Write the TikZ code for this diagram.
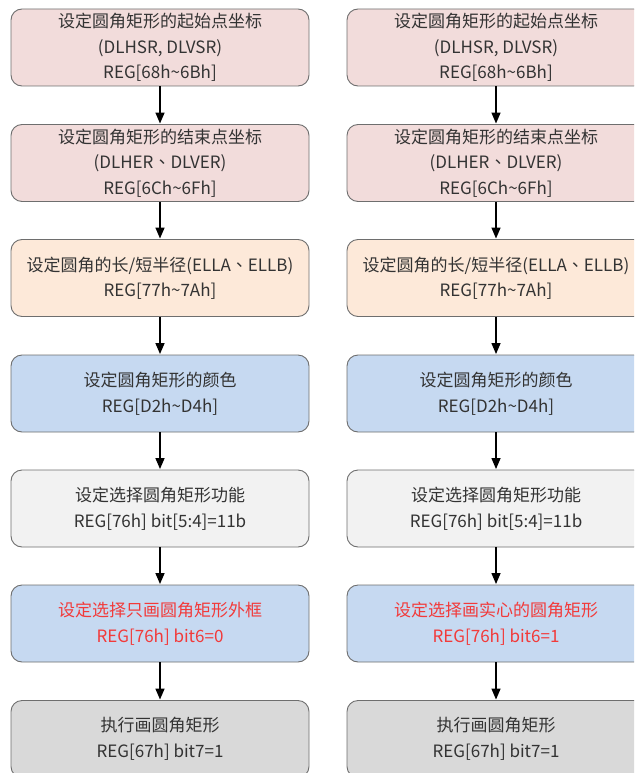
\documentclass[tikz,border=0pt]{standalone}
\usepackage{fontspec}
\setmainfont{Noto Sans CJK SC}
\newfontfamily\tcfont{Noto Sans CJK TC}
\newcommand{\dun}{{\tcfont 、}}
\usetikzlibrary{arrows.meta}
\definecolor{pinkf}{HTML}{F2DCDB}
\definecolor{peachf}{HTML}{FDE9D9}
\definecolor{bluef}{HTML}{C6D9F1}
\definecolor{lgrayf}{HTML}{F2F2F2}
\definecolor{grayf}{HTML}{D9D9D9}
\definecolor{edgec}{HTML}{6E6E6E}
\definecolor{txtc}{HTML}{333333}
\definecolor{redt}{HTML}{F23A3A}
\tikzset{
  box/.style={draw=edgec, line width=0.9pt, rounded corners=11pt, minimum width=298pt, minimum height=77pt,
    inner sep=0pt, align=center, text=txtc, font=\fontsize{17}{25.5}\selectfont},
  conn/.style={-{Triangle[length=11pt,width=9pt]}, line width=1.4pt, black, shorten >=0.5pt}
}
\begin{document}
\begin{tikzpicture}[x=1pt,y=-1pt]
\useasboundingbox (0,0) rectangle (634,773);
\clip (0,0) rectangle (634,773);
\foreach \c/\p in {160/l,496/r}{
  \node[box, fill=pinkf] (\p1) at (\c,47.5) {设定圆角矩形的起始点坐标\\(DLHSR, DLVSR)\\REG[68h\textasciitilde6Bh]};
  \node[box, fill=pinkf] (\p2) at (\c,163) {设定圆角矩形的结束点坐标\\(DLHER\dun DLVER)\\REG[6Ch\textasciitilde6Fh]};
  \node[box, fill=peachf] (\p3) at (\c,278) {设定圆角的长/短半径(ELLA\dun ELLB)\\REG[77h\textasciitilde7Ah]};
  \node[box, fill=bluef] (\p4) at (\c,393.5) {设定圆角矩形的颜色\\REG[D2h\textasciitilde D4h]};
  \node[box, fill=lgrayf] (\p5) at (\c,508.5) {设定选择圆角矩形功能\\REG[76h] bit[5:4]=11b};
  \node[box, fill=grayf] (\p7) at (\c,739) {执行画圆角矩形\\REG[67h] bit7=1};
}
\node[box, fill=bluef, text=redt] (l6) at (160,623.5) {设定选择只画圆角矩形外框\\REG[76h] bit6=0};
\node[box, fill=bluef, text=redt] (r6) at (496,623.5) {设定选择画实心的圆角矩形\\REG[76h] bit6=1};
\foreach \p in {l,r}{
  \foreach \a/\b in {1/2,2/3,3/4,4/5,5/6,6/7}{
    \draw[conn] (\p\a) -- (\p\b);
  }
}
\end{tikzpicture}
\end{document}
